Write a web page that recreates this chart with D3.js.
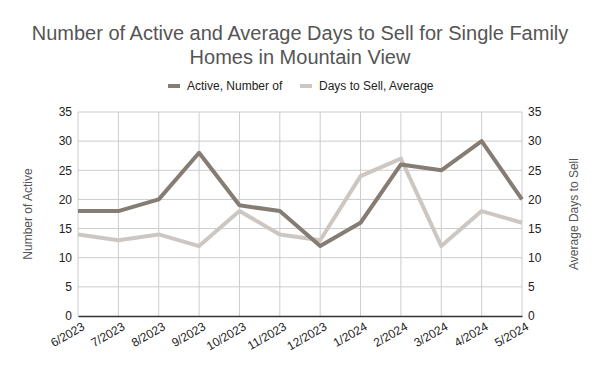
<!DOCTYPE html>
<html>
<head>
<meta charset="utf-8">
<script src="https://cdn.jsdelivr.net/npm/d3@7"></script>
<style>
  body { margin: 0; background: #fff; }
  text { font-family: "Liberation Sans", Arial, sans-serif; }
</style>
</head>
<body>
<svg width="600" height="371"></svg>
<script>
var months = ['6/2023', '7/2023', '8/2023', '9/2023', '10/2023', '11/2023',
              '12/2023', '1/2024', '2/2024', '3/2024', '4/2024', '5/2024'];
var activeCount = [18, 18, 20, 28, 19, 18, 12, 16, 26, 25, 30, 20];
var daysToSell = [14, 13, 14, 12, 18, 14, 13, 24, 27, 12, 18, 16];
var yTicks = [0, 5, 10, 15, 20, 25, 30, 35];

var width = 600;
var height = 371;
var plotLeft = 78, plotRight = 522, plotTop = 112, plotBottom = 316;
var darkColor = '#857c74';
var lightColor = '#cdc7c3';

var svg = d3.select('svg');

var x = d3.scalePoint()
    .domain(months)
    .range([plotLeft, plotRight]);

var yLeft = d3.scaleLinear().domain([0, 35]).range([plotBottom, plotTop]);
var yRight = d3.scaleLinear().domain([0, 35]).range([plotBottom, plotTop]);

// title
var title = svg.append('text')
    .attr('text-anchor', 'middle')
    .attr('fill', '#555')
    .style('font-size', '20px');
title.append('tspan').attr('x', width / 2).attr('y', 40)
    .text('Number of Active and Average Days to Sell for Single Family');
title.append('tspan').attr('x', width / 2).attr('y', 64)
    .text('Homes in Mountain View');

// legend
var legend = [
  { name: 'Active, Number of', color: darkColor, x: 168 },
  { name: 'Days to Sell, Average', color: lightColor, x: 300 }
];
var lg = svg.append('g').selectAll('g')
    .data(legend)
  .enter().append('g')
    .attr('transform', function(d) { return 'translate(' + d.x + ',86)'; });
lg.append('rect')
    .attr('y', -2).attr('width', 12).attr('height', 4)
    .attr('fill', function(d) { return d.color; });
lg.append('text')
    .attr('x', 19).attr('dy', '0.35em')
    .attr('fill', '#222')
    .style('font-size', '12px')
    .text(function(d) { return d.name; });

// grid
var grid = svg.append('g');
grid.selectAll('.h')
    .data(yTicks.slice(1))
  .enter().append('line')
    .attr('x1', plotLeft).attr('x2', plotRight)
    .attr('y1', function(d) { return yLeft(d); })
    .attr('y2', function(d) { return yLeft(d); })
    .attr('stroke', '#ccc');
grid.selectAll('.v')
    .data(months)
  .enter().append('line')
    .attr('x1', function(d) { return x(d); })
    .attr('x2', function(d) { return x(d); })
    .attr('y1', plotTop).attr('y2', plotBottom)
    .attr('stroke', '#ccc');

// axes
var leftAxis = svg.append('g')
    .attr('transform', 'translate(' + plotLeft + ',0)')
    .call(d3.axisLeft(yLeft).tickValues(yTicks).tickSize(0).tickPadding(6));
var rightAxis = svg.append('g')
    .attr('transform', 'translate(' + plotRight + ',0)')
    .call(d3.axisRight(yRight).tickValues(yTicks).tickSize(0).tickPadding(6));
[leftAxis, rightAxis].forEach(function(a) {
  a.select('.domain').remove();
  a.selectAll('text').attr('fill', '#222').style('font-size', '12px');
});

var xAxis = svg.append('g')
    .attr('transform', 'translate(0,' + plotBottom + ')')
    .call(d3.axisBottom(x).tickSize(0).tickPadding(0));
xAxis.select('.domain').attr('stroke', '#333').attr('stroke-width', 1.3);
xAxis.selectAll('text')
    .attr('fill', '#222')
    .style('font-size', '12px')
    .attr('text-anchor', 'end')
    .attr('dy', null)
    .attr('y', 0)
    .attr('transform', 'translate(7,13) rotate(-30)');

// axis titles
svg.append('text')
    .attr('transform', 'translate(32,' + (plotTop + plotBottom) / 2 + ') rotate(-90)')
    .attr('text-anchor', 'middle')
    .attr('fill', '#555')
    .style('font-size', '12px')
    .text('Number of Active');
svg.append('text')
    .attr('transform', 'translate(578,' + (plotTop + plotBottom) / 2 + ') rotate(-90)')
    .attr('text-anchor', 'middle')
    .attr('fill', '#555')
    .style('font-size', '12px')
    .text('Average Days to Sell');

// lines
var lineLeft = d3.line()
    .x(function(d, i) { return x(months[i]); })
    .y(function(d) { return yLeft(d); });
var lineRight = d3.line()
    .x(function(d, i) { return x(months[i]); })
    .y(function(d) { return yRight(d); });

svg.append('path')
    .datum(daysToSell)
    .attr('d', lineRight)
    .attr('fill', 'none')
    .attr('stroke', lightColor)
    .attr('stroke-width', 4)
    .attr('stroke-linejoin', 'round');
svg.append('path')
    .datum(activeCount)
    .attr('d', lineLeft)
    .attr('fill', 'none')
    .attr('stroke', darkColor)
    .attr('stroke-width', 4)
    .attr('stroke-linejoin', 'round');
</script>
</body>
</html>
